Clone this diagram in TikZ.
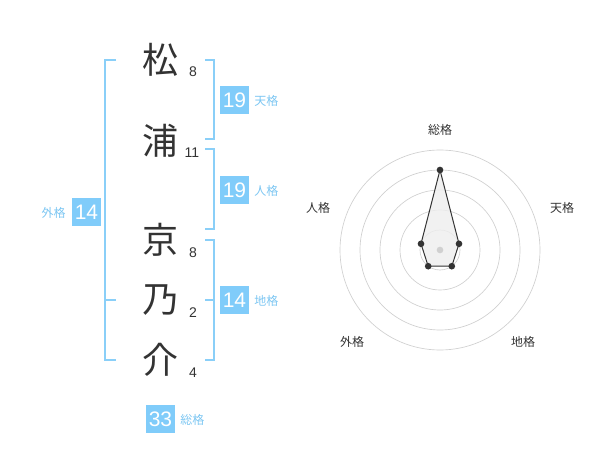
\documentclass[tikz,border=0pt]{standalone}
\usepackage{fontspec}
\usetikzlibrary{calc}
\setmainfont{Noto Sans CJK JP}
\newfontfamily\digitfont{Liberation Sans}
\definecolor{boxblue}{HTML}{80CCFA}
\definecolor{brblue}{HTML}{8ACFF8}
\definecolor{lblblue}{HTML}{7CC6F2}
\definecolor{ink}{HTML}{333333}
\definecolor{ring}{HTML}{D0D0D0}
\definecolor{polyfill}{HTML}{EEEEEE}
\tikzset{
  kanji/.style={font=\fontsize{27}{27}\selectfont, text=ink, inner sep=0pt},
  stroke/.style={font=\digitfont\fontsize{10.5}{10.5}\selectfont, text=ink, inner sep=0pt},
  valbox/.style={fill=boxblue, text=white, font=\digitfont\fontsize{15.75}{15.75}\selectfont, minimum width=21.75pt, minimum height=21pt, inner sep=0pt},
  kaku/.style={font=\fontsize{9}{9}\selectfont, text=lblblue, inner sep=0pt},
  bracket/.style={draw=brblue, line width=1.5pt},
  axislbl/.style={font=\fontsize{9}{9}\selectfont, text=ink, inner sep=0pt},
  ringline/.style={draw=ring, line width=0.5pt},
  dot/.style={circle, fill=ink, inner sep=0pt, minimum size=5pt},
}
\begin{document}
\begin{tikzpicture}[x=0.75pt, y=-0.75pt]
\useasboundingbox (0,0) rectangle (600,470);
% characters
\node[kanji] (c1) at (160,60) {松};
\node[kanji] (c2) at (160,141) {浦};
\node[kanji] (c3) at (160,240) {京};
\node[kanji] (c4) at (160,300) {乃};
\node[kanji] (c5) at (160,360) {介};
% stroke counts
\node[stroke] (s1) at (193,72) {8};
\node[stroke] (s2) at (192,153) {11};
\node[stroke] (s3) at (193,253) {8};
\node[stroke] (s4) at (193,313) {2};
\node[stroke] (s5) at (193,373) {4};
% brackets
\draw[bracket] (116,60) -- (105,60) -- (105,360) -- (116,360);
\draw[bracket] (105,300) -- (116,300);
\draw[bracket] (205,60) -- (214,60) -- (214,139) -- (205,139);
\draw[bracket] (205,149) -- (214,149) -- (214,229) -- (205,229);
\draw[bracket] (205,240) -- (214,240) -- (214,360) -- (205,360);
\draw[bracket] (205,300) -- (214,300);
% value boxes
\node[valbox] (ten) at (234.5,100) {19};
\node[kaku, anchor=west] (tenl) at (254,101) {天格};
\node[valbox] (jin) at (234.5,190) {19};
\node[kaku, anchor=west] (jinl) at (254,191) {人格};
\node[valbox] (gai) at (86.5,212) {14};
\node[kaku, anchor=east] (gail) at (66,213) {外格};
\node[valbox] (chi) at (234.5,300) {14};
\node[kaku, anchor=west] (chil) at (254,301) {地格};
\node[valbox] (sou) at (160.5,419) {33};
\node[kaku, anchor=west] (soul) at (180,420) {総格};
% radar
\coordinate (o) at (440,250);
\foreach \r in {20,40,60,80,100} \draw[ringline] (o) circle[radius=\r];
\coordinate (pS) at (440,170);
\coordinate (pT) at (459.0,243.8);
\coordinate (pC) at (451.8,266.2);
\coordinate (pG) at (428.2,266.2);
\coordinate (pJ) at (421.0,243.8);
\draw[ink, line width=0.75pt, fill=polyfill, fill opacity=0.8] (pS) -- (pT) -- (pC) -- (pG) -- (pJ) -- cycle;
\node[circle, fill=ring, inner sep=0pt, minimum size=5pt] (ctr) at (o) {};
\foreach \p in {pS,pT,pC,pG,pJ} \node[dot] at (\p) {};
\node[axislbl] (aS) at (440,130) {総格};
\node[axislbl] (aT) at (562,208) {天格};
\node[axislbl] (aC) at (523,342) {地格};
\node[axislbl] (aG) at (352,342) {外格};
\node[axislbl] (aJ) at (318,208) {人格};
\end{tikzpicture}
\end{document}
